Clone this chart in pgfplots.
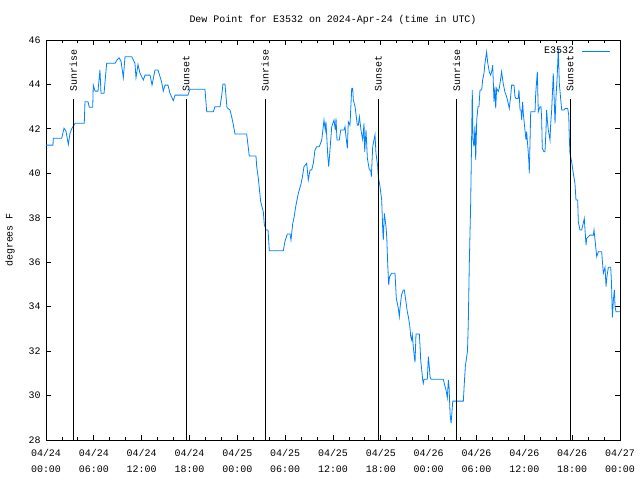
\documentclass[border=0pt]{standalone}
\usepackage{pgfplots}
\pgfplotsset{compat=1.18}
\usepackage{fontspec}
\setmainfont{Liberation Mono}
\setmonofont{Liberation Mono}
\definecolor{dpblue}{RGB}{0,128,255}
\begin{document}
\begin{tikzpicture}
\useasboundingbox (-46bp,-40bp) rectangle (594bp,440bp);
\begin{axis}[
  at={(0,0)}, anchor=south west,
  scale only axis, width=574bp, height=400bp,
  xmin=0, xmax=72, ymin=28, ymax=46,
  xtick={0,6,...,72},
  xticklabels={04/24\\00:00,04/24\\06:00,04/24\\12:00,04/24\\18:00,04/25\\00:00,04/25\\06:00,04/25\\12:00,04/25\\18:00,04/26\\00:00,04/26\\06:00,04/26\\12:00,04/26\\18:00,04/27\\00:00},
  xticklabel style={align=center, font=\fontsize{10}{16}\selectfont, yshift=-6bp},
  minor x tick num=2,
  ytick={28,30,...,46},
  yticklabel style={font=\fontsize{10}{12}\selectfont, xshift=-2bp},
  /pgf/number format/assume math mode=true,
  tick align=inside,
  major tick length=5bp, minor tick length=3bp,
  tick style={black, line width=0.8bp},
  axis line style={line width=0.8bp},
  title={Dew Point for E3532 on 2024-Apr-24 (time in UTC)},
  title style={at={(axis description cs:0.5,1)}, anchor=base, yshift=12bp, font=\fontsize{10}{12}\selectfont},
  ylabel={degrees F},
  ylabel style={at={(axis description cs:-0.0627,0.5)}, anchor=center, font=\fontsize{10}{12}\selectfont},
  legend style={draw=none, fill=none, at={(axis description cs:1,1)}, anchor=north east, xshift=-6bp, yshift=-3bp, font=\fontsize{10}{12}\selectfont},
  legend cell align=right,
  legend plot pos=right,
  legend image code/.code={\path (0bp,0bp); \draw[#1] (6bp,0bp) -- (34bp,0bp);},
]
\addplot[dpblue, line width=0.8bp, sharp plot, mark=none] coordinates {
(0,41.27) (0.88,41.27) (0.92,41.58) (1.97,41.58) (2.26,42.03) (2.51,41.9) (2.80,41.3) (3.01,41.8) (3.22,42.0) (3.64,42.25) (4.80,42.25) (4.89,43.22) (5.27,43.22) (5.43,42.97) (5.86,42.97) (5.93,43.97) (6.15,43.7) (6.52,43.7) (6.77,44.65) (6.90,43.6) (7.28,43.6) (7.61,44.95) (8.66,44.95) (8.91,45.1) (9.16,45.2) (9.41,45.05) (9.70,44.3) (9.91,45.25) (10.75,45.25) (11.16,44.95) (11.29,44.3) (11.54,44.9) (11.79,44.5) (12.21,44.2) (12.42,44.42) (13.05,44.42) (13.30,43.97) (13.67,44.65) (14.05,44.65) (14.51,44.1) (14.71,43.7) (14.93,43.97) (15.30,43.97) (15.55,43.6) (15.97,43.27) (16.18,43.52) (17.81,43.52) (18.06,43.78) (19.94,43.78) (20.16,42.77) (20.99,42.77) (21.20,43.0) (21.83,43.0) (22.04,43.5) (22.20,44.02) (22.45,44.02) (22.70,42.95) (23.08,42.85) (23.29,42.55) (23.49,42.2) (23.71,41.77) (25.17,41.77) (25.50,40.78) (26.34,40.78) (26.43,40.3) (26.63,39.78) (26.93,38.72) (27.26,38.27) (27.38,37.7) (27.60,37.45) (27.85,37.45) (28.01,36.52) (29.77,36.52) (29.98,36.95) (30.27,37.27) (30.61,37.27) (30.73,37.0) (30.95,37.75) (31.11,38.0) (31.32,38.5) (31.65,39.1) (31.95,39.47) (32.17,39.85) (32.36,40.3) (32.70,40.45) (32.90,39.7) (33.12,40.15) (33.33,40.15) (33.53,40.45) (33.74,41.05) (33.96,41.2) (34.28,41.2) (34.59,41.5) (34.87,42.4) (35.03,41.95) (35.12,42.32) (35.34,40.82) (35.46,40.3) (35.62,41.05) (35.84,42.1) (36.13,42.4) (36.29,41.95) (36.38,42.47) (36.50,41.5) (36.79,41.5) (36.97,41.95) (37.38,41.95) (37.51,42.1) (37.63,41.65) (37.80,41.13) (37.92,42.32) (38.13,42.17) (38.35,43.83) (38.47,43.83) (38.55,43.3) (38.77,43.0) (39.05,42.17) (39.18,42.17) (39.31,42.55) (39.51,41.95) (39.73,41.5) (39.89,42.25) (39.98,40.97) (40.14,41.95) (40.31,40.68) (40.56,40.15) (40.73,40.15) (40.81,39.85) (40.98,41.2) (41.14,41.5) (41.27,41.73) (41.39,40.9) (41.61,40.3) (41.68,39.85) (41.90,39.4) (42.11,38.8) (42.24,37.45) (42.31,37.0) (42.44,38.2) (42.65,37.6) (42.74,37.15) (42.86,35.95) (42.99,34.97) (43.09,35.35) (43.36,35.5) (43.78,35.5) (43.94,34.38) (44.19,33.93) (44.32,33.55) (44.41,33.95) (44.59,34.52) (44.82,34.75) (44.95,34.75) (45.12,34.3) (45.32,33.77) (45.45,33.55) (45.62,33.17) (45.75,32.65) (45.87,32.5) (45.95,32.72) (46.07,32.2) (46.20,31.75) (46.29,31.5) (46.41,32.77) (46.83,32.77) (46.92,32.2) (47.00,31.6) (47.13,31.15) (47.25,30.7) (47.33,30.55) (47.42,30.73) (47.83,30.73) (47.96,31.75) (48.08,31.3) (48.17,30.85) (48.29,30.73) (49.84,30.73) (49.99,30.5) (50.18,30.25) (50.34,29.9) (50.47,30.7) (50.56,30.4) (50.68,29.2) (50.81,28.75) (50.93,29.3) (51.02,29.75) (52.35,29.75) (52.47,30.55) (52.60,31.3) (52.77,31.75) (52.87,32.0) (52.97,33.25) (53.10,35.95) (53.27,38.65) (53.40,41.87) (53.47,43.75) (53.56,41.5) (53.69,41.2) (53.81,42.15) (53.90,40.6) (54.03,42.4) (54.19,43.0) (54.31,43.0) (54.44,43.75) (54.65,43.75) (54.77,44.2) (54.94,44.5) (55.06,44.95) (55.27,45.47) (55.40,45.0) (55.60,44.57) (55.78,44.42) (55.90,44.57) (56.03,44.87) (56.20,43.22) (56.32,43.9) (56.41,42.92) (56.53,43.83) (56.73,43.68) (56.86,43.83) (56.93,44.0) (57.15,44.57) (57.35,44.05) (57.56,43.67) (57.78,43.45) (57.98,43.15) (58.11,42.92) (58.28,43.45) (58.41,43.97) (58.70,43.97) (58.83,43.45) (58.95,43.37) (59.24,43.37) (59.33,43.75) (59.46,42.85) (59.58,42.85) (59.67,42.4) (59.79,43.22) (59.87,42.7) (60.08,41.95) (60.21,41.5) (60.29,41.87) (60.42,41.27) (60.50,40.9) (60.58,40.45) (60.62,40.0) (60.71,41.35) (60.80,42.77) (61.34,42.77) (61.43,43.6) (61.63,44.57) (61.75,42.77) (61.96,43.0) (62.09,43.0) (62.18,42.4) (62.25,41.13) (62.46,40.97) (62.59,40.97) (62.72,41.95) (62.80,42.85) (62.88,42.4) (63.01,41.95) (63.22,41.5) (63.31,42.25) (63.43,42.85) (63.56,43.9) (63.63,44.5) (63.85,42.25) (63.97,43.45) (64.10,44.2) (64.19,44.95) (64.26,45.62) (64.39,44.05) (64.57,43.3) (64.69,42.85) (64.98,42.85) (65.11,42.92) (65.44,42.92) (65.57,42.62) (65.64,41.65) (65.72,40.9) (65.94,40.52) (66.14,40.0) (66.35,39.55) (66.48,38.8) (66.69,38.8) (66.77,37.82) (66.98,37.45) (67.19,37.45) (67.39,37.75) (67.52,37.97) (67.74,36.77) (67.82,37.07) (68.24,37.22) (68.66,37.22) (68.74,37.45) (69.08,36.25) (69.28,36.47) (69.71,36.47) (69.78,36.1) (69.91,35.5) (70.12,35.77) (70.25,34.9) (70.34,35.3) (70.54,35.77) (70.84,35.77) (70.94,35.0) (71.04,33.52) (71.17,34.3) (71.29,34.75) (71.38,34.0) (71.51,33.77) (72.0,33.77)
};
\addlegendentry{E3532}
\addplot[black, line width=0.8bp, forget plot] coordinates {(3.42,28) (3.42,43.34)};
\addplot[black, line width=0.8bp, forget plot] coordinates {(17.56,28) (17.56,43.34)};
\addplot[black, line width=0.8bp, forget plot] coordinates {(27.47,28) (27.47,43.34)};
\addplot[black, line width=0.8bp, forget plot] coordinates {(41.68,28) (41.68,43.34)};
\addplot[black, line width=0.8bp, forget plot] coordinates {(51.51,28) (51.51,43.34)};
\addplot[black, line width=0.8bp, forget plot] coordinates {(65.73,28) (65.73,43.34)};
\node[rotate=90, anchor=west, inner sep=0pt, font=\fontsize{10}{12}\selectfont] at (axis cs:3.42,43.66) {Sunrise};
\node[rotate=90, anchor=west, inner sep=0pt, font=\fontsize{10}{12}\selectfont] at (axis cs:17.56,43.66) {Sunset};
\node[rotate=90, anchor=west, inner sep=0pt, font=\fontsize{10}{12}\selectfont] at (axis cs:27.47,43.66) {Sunrise};
\node[rotate=90, anchor=west, inner sep=0pt, font=\fontsize{10}{12}\selectfont] at (axis cs:41.68,43.66) {Sunset};
\node[rotate=90, anchor=west, inner sep=0pt, font=\fontsize{10}{12}\selectfont] at (axis cs:51.51,43.66) {Sunrise};
\node[rotate=90, anchor=west, inner sep=0pt, font=\fontsize{10}{12}\selectfont] at (axis cs:65.73,43.66) {Sunset};
\end{axis}
\end{tikzpicture}
\end{document}
